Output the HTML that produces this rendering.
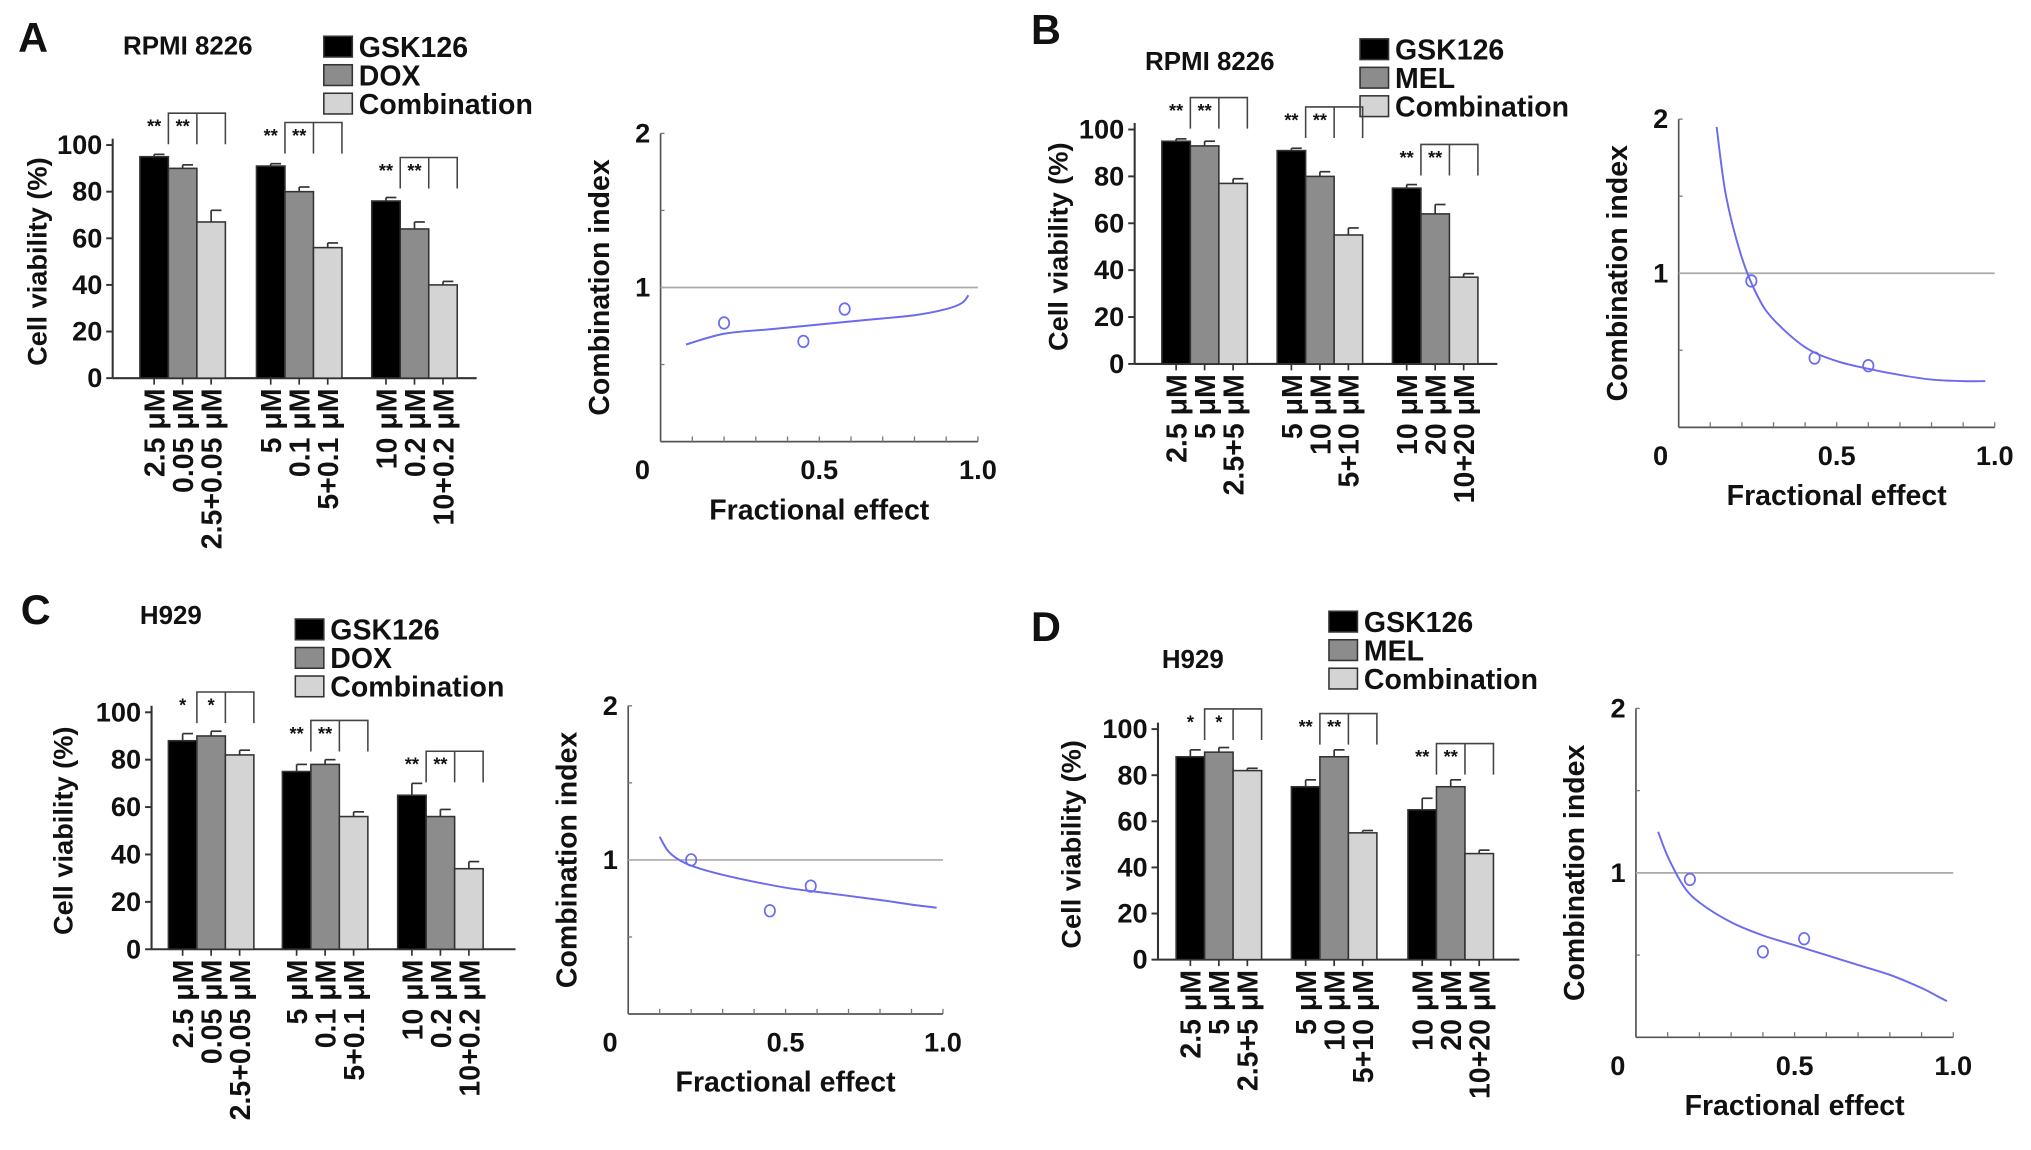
<!DOCTYPE html>
<html><head><meta charset="utf-8">
<style>
html,body{margin:0;padding:0;background:#fff;}
svg{display:block;}
text{font-family:"Liberation Sans",sans-serif;font-weight:bold;fill:#111;}
</style></head>
<body>
<svg id="fig" width="2031" height="1150" viewBox="0 0 1568 888" preserveAspectRatio="none" xmlns="http://www.w3.org/2000/svg"></svg>
<script>
// ---- Data ----
const groupsA = ["2.5  μM","0.05  μM","2.5+0.05  μM","5  μM","0.1  μM","5+0.1  μM","10  μM","0.2  μM","10+0.2  μM"];
const groupsB = ["2.5  μM","5  μM","2.5+5  μM","5  μM","10  μM","5+10  μM","10  μM","20  μM","10+20  μM"];
const gskA = [95, 91, 76];
const doxA = [90, 80, 64];
const combA = [67, 56, 40];
const errA = [[1,1,1.5],[1.5,2,3],[5,2,1.5]];
const gskB = [95, 91, 75];
const melB = [93, 80, 64];
const combB = [77, 55, 37];
const errB = [[1,1,1.5],[2,2,4],[2,3,1.5]];
const gskC = [88, 75, 65];
const doxC = [90, 78, 56];
const combC = [82, 56, 34];
const errC = [[3,3,5],[2,2,3],[2,2,3]];
const gskD = [88, 75, 65];
const melD = [90, 88, 75];
const combD = [82, 55, 46];
const errD = [[3,3,5],[2,3,3],[1,1,1.5]];
const starsA = ["**","**","**"];
const starsC = ["*","**","**"];
const yTicksBar = [0,20,40,60,80,100];
const ciCurveA_fa = [0.08,0.2,0.35,0.5,0.65,0.8,0.9,0.95,0.97];
const ciCurveA_ci = [0.63,0.7,0.73,0.76,0.79,0.82,0.86,0.9,0.95];
const ciPtsA_fa = [0.2,0.45,0.58];
const ciPtsA_ci = [0.77,0.65,0.86];
const ciCurveB_fa = [0.12,0.15,0.2,0.25,0.3,0.4,0.5,0.6,0.7,0.8,0.9,0.97];
const ciCurveB_ci = [1.95,1.5,1.1,0.85,0.7,0.52,0.43,0.38,0.34,0.31,0.3,0.3];
const ciPtsB_fa = [0.23,0.43,0.6];
const ciPtsB_ci = [0.95,0.45,0.4];
const ciCurveC_fa = [0.1,0.13,0.18,0.25,0.35,0.5,0.65,0.8,0.9,0.98];
const ciCurveC_ci = [1.15,1.05,0.98,0.93,0.88,0.82,0.78,0.74,0.71,0.69];
const ciPtsC_fa = [0.2,0.45,0.58];
const ciPtsC_ci = [1.0,0.67,0.83];
const ciCurveD_fa = [0.07,0.1,0.15,0.2,0.3,0.4,0.5,0.6,0.7,0.8,0.9,0.95,0.98];
const ciCurveD_ci = [1.25,1.1,0.92,0.82,0.7,0.62,0.56,0.5,0.44,0.38,0.3,0.25,0.22];
const ciPtsD_fa = [0.17,0.4,0.53];
const ciPtsD_ci = [0.96,0.52,0.6];

const NS="http://www.w3.org/2000/svg";
const svg=document.getElementById('fig');
function mk(tag,attrs,parent){const e=document.createElementNS(NS,tag);for(const k in attrs)e.setAttribute(k,attrs[k]);(parent||svg).appendChild(e);return e;}
function txt(s,x,y,size,extra,parent){const t=mk('text',Object.assign({x:x,y:y,'font-size':size},extra||{}),parent);t.textContent=s;return t;}
function smooth(p){
  let d='M'+p[0][0]+','+p[0][1];
  for(let i=0;i<p.length-1;i++){
    const p0=p[i-1]||p[i],p1=p[i],p2=p[i+1],p3=p[i+2]||p2;
    const c1=[p1[0]+(p2[0]-p0[0])/6,p1[1]+(p2[1]-p0[1])/6];
    const c2=[p2[0]-(p3[0]-p1[0])/6,p2[1]-(p3[1]-p1[1])/6];
    d+=` C${c1[0]},${c1[1]} ${c2[0]},${c2[1]} ${p2[0]},${p2[1]}`;
  }
  return d;
}

function barPanel(o){
  const g=mk('g',{});
  
  
  const yS=v=>o.y0-(o.y0-o.y100)*v/100;
  const t1=txt(o.letter,o.lx,o.ly,32,{},g);
  
  
  const t2=txt(o.cell,o.cx,o.cy,20,{},g);
  
  
  const fills=['#000','#8c8c8c','#d4d4d4'];
  const series=[o.s1,o.s2,o.s3];
  o.legend.forEach((l,i)=>{
    const r=mk('rect',{x:o.legX,y:o.legY+i*22-15,width:22,height:16,fill:fills[i],stroke:'#333','stroke-width':1.2},g);
    
    
    const t=txt(l,o.legX+27,o.legY+i*22+1,22,{},g);
    
    
  });
  mk('line',{x1:o.ax,y1:o.y100-5,x2:o.ax,y2:o.y0,stroke:'#333','stroke-width':1.6},g);
  mk('line',{x1:o.ax,y1:o.y0,x2:o.axEnd,y2:o.y0,stroke:'#333','stroke-width':1.6},g);
  yTicksBar.forEach(v=>{
    mk('line',{x1:o.ax-5,y1:yS(v),x2:o.ax,y2:yS(v),stroke:'#333','stroke-width':1.5},g);
    const t=txt(String(v),o.ax-8,yS(v)+7,21,{'text-anchor':'end'},g);
    
    
  });
  const yt=txt('Cell  viability (%)',0,0,21,{'text-anchor':'middle',transform:`translate(${o.ytX},${(o.y0+o.y100)/2}) rotate(-90)`},g);
  
  
  const bw=22;
  for(let gi=0;gi<3;gi++){
    const gx=o.gStart[gi];
    for(let si=0;si<3;si++){
      const v=series[si][gi];const x=gx+si*bw;
      const e=o.err[si][gi];
      mk('line',{x1:x+bw/2,y1:yS(v+e),x2:x+bw/2,y2:yS(v),stroke:'#333','stroke-width':1.3},g);
      mk('line',{x1:x+bw/2,y1:yS(v+e),x2:x+bw/2+8,y2:yS(v+e),stroke:'#333','stroke-width':1.3},g);
      const r=mk('rect',{x:x,y:yS(v),width:bw,height:o.y0-yS(v),fill:fills[si],stroke:'#333','stroke-width':1.2},g);
      
      
      mk('line',{x1:x+bw/2,y1:o.y0,x2:x+bw/2,y2:o.y0+5,stroke:'#333','stroke-width':1.3},g);
      const lab=o.labels[gi*3+si];
      const t=txt(lab,0,0,22,{'text-anchor':'end',transform:`translate(${x+bw/2+8},${o.y0+8}) rotate(-90)`},g);
      
      
    }
    const top=yS(Math.max(series[0][gi],series[1][gi],series[2][gi])+o.brOff);
    const bx1=gx+bw, bx2=gx+2*bw, bx3=gx+3*bw;
    mk('polyline',{points:`${bx1},${top+12} ${bx1},${top-12} ${bx3},${top-12} ${bx3},${top+12}`,fill:'none',stroke:'#444','stroke-width':1.2},g);
    mk('line',{x1:bx2,y1:top-12,x2:bx2,y2:top+12,stroke:'#444','stroke-width':1.2},g);
    const st=o.stars[gi];
    const s1=txt(st,gx+bw/2,top+3,14,{'text-anchor':'middle',fill:'#444'},g);
    
    
    const s2=txt(st,gx+bw*1.5,top+3,14,{'text-anchor':'middle',fill:'#444'},g);
    
    
  }
}

function ciPanel(o){
  const g=mk('g',{});
  
  
  const xS=f=>o.ax+(o.x1-o.ax)*f;
  const yS=c=>o.y0-(o.y0-o.y2)*c/2;
  mk('line',{x1:o.ax,y1:o.y2,x2:o.ax,y2:o.y0,stroke:'#555','stroke-width':1.3},g);
  mk('line',{x1:o.ax,y1:o.y0,x2:o.x1,y2:o.y0,stroke:'#555','stroke-width':1.3},g);
  for(let i=1;i<=10;i++)mk('line',{x1:xS(i/10),y1:o.y0,x2:xS(i/10),y2:o.y0-4,stroke:'#777','stroke-width':1},g);
  [0.5,1,1.5,2].forEach(c=>mk('line',{x1:o.ax,y1:yS(c),x2:o.ax+3,y2:yS(c),stroke:'#777','stroke-width':1},g));
  const ref=mk('line',{x1:o.ax,y1:yS(1),x2:o.x1,y2:yS(1),stroke:'#aaa','stroke-width':1.3},g);
  
  
  [[2,'2'],[1,'1']].forEach(([c,s])=>{
    const t=txt(s,o.ax-8,yS(c)+7,21,{'text-anchor':'end'},g);
    
    
  });
  [[0,'0'],[0.5,'0.5'],[1,'1.0']].forEach(([f,s])=>{
    const t=txt(s,xS(f)-(f===0?14:0),o.y0+29,21,{'text-anchor':'middle'},g);
    
    
  });
  const xt=txt('Fractional effect',xS(0.5),o.y0+60,22,{'text-anchor':'middle'},g);
  
  
  const yt=txt('Combination  index',0,0,22,{'text-anchor':'middle',transform:`translate(${o.ax-40},${yS(1)}) rotate(-90)`},g);
  
  
  const pts=o.cf.map((f,i)=>[xS(f),yS(o.cc[i])]);
  const c=mk('path',{d:smooth(pts),fill:'none',stroke:'#6b6bef','stroke-width':1.5},g);
  
  
  o.pf.forEach((f,i)=>{
    const p=mk('ellipse',{cx:xS(f),cy:yS(o.pc[i]),rx:4,ry:4.5,fill:'none',stroke:'#6b6bef','stroke-width':1.3},g);
    
    
  });
}

barPanel({name:'panel-a',letter:'A',lx:14,ly:40,cell:'RPMI 8226',cx:95,cy:42,legend:['GSK126','DOX','Combination'],legX:250,legY:43,
  ax:87,axEnd:368,y0:292,y100:112,ytX:36,gStart:[108,198,287],s1:gskA,s2:doxA,s3:combA,err:errA,labels:groupsA,stars:starsA,brOff:12});
ciPanel({name:'panel-a',ax:510,x1:755,y0:341,y2:103,cf:ciCurveA_fa,cc:ciCurveA_ci,pf:ciPtsA_fa,pc:ciPtsA_ci});

barPanel({name:'panel-b',letter:'B',lx:796,ly:34,cell:'RPMI 8226',cx:884,cy:54,legend:['GSK126','MEL','Combination'],legX:1050,legY:45,
  ax:876,axEnd:1156,y0:281,y100:100,ytX:824,gStart:[897,986,1075],s1:gskB,s2:melB,s3:combB,err:errB,labels:groupsB,stars:starsA,brOff:12});
ciPanel({name:'panel-b',ax:1296,x1:1540,y0:330,y2:92,cf:ciCurveB_fa,cc:ciCurveB_ci,pf:ciPtsB_fa,pc:ciPtsB_ci});

barPanel({name:'panel-c',letter:'C',lx:16,ly:482,cell:'H929',cx:108,cy:482,legend:['GSK126','DOX','Combination'],legX:228,legY:493,
  ax:117,axEnd:398,y0:733,y100:550,ytX:56,gStart:[130,218,307],s1:gskC,s2:doxC,s3:combC,err:errC,labels:groupsA,stars:starsC,brOff:12});
ciPanel({name:'panel-c',ax:485,x1:728,y0:783,y2:545,cf:ciCurveC_fa,cc:ciCurveC_ci,pf:ciPtsC_fa,pc:ciPtsC_ci});

barPanel({name:'panel-d',letter:'D',lx:796,ly:495,cell:'H929',cx:897,cy:516,legend:['GSK126','MEL','Combination'],legX:1026,legY:487,
  ax:894,axEnd:1173,y0:741,y100:563,ytX:834,gStart:[908,997,1087],s1:gskD,s2:melD,s3:combD,err:errD,labels:groupsB,stars:starsC,brOff:12});
ciPanel({name:'panel-d',ax:1263,x1:1508,y0:801,y2:547,cf:ciCurveD_fa,cc:ciCurveD_ci,pf:ciPtsD_fa,pc:ciPtsD_ci});
</script>
</body></html>
